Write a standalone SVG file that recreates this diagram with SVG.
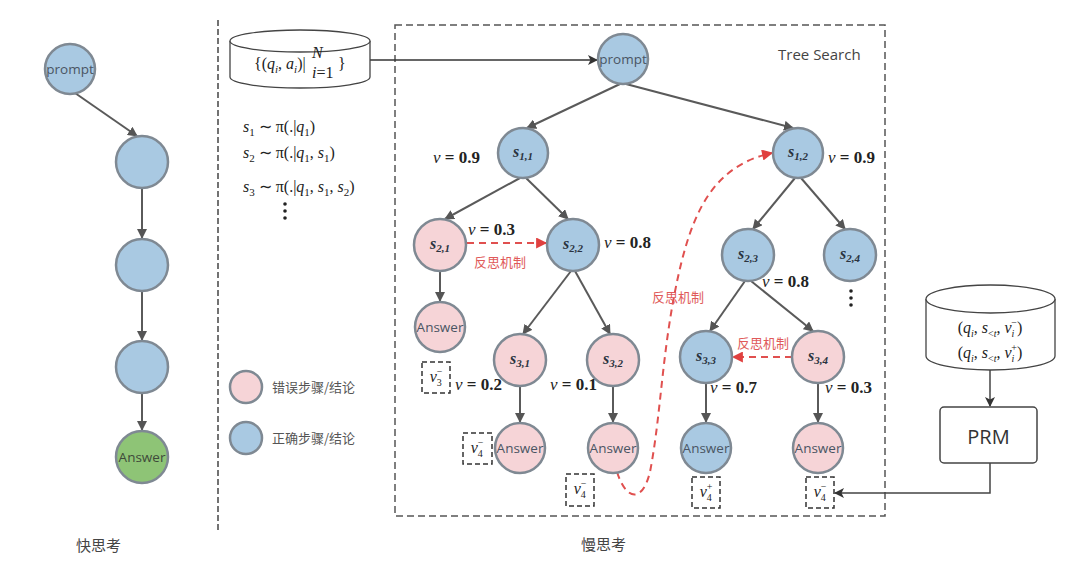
<svg xmlns="http://www.w3.org/2000/svg" width="1080" height="586" viewBox="0 0 1080 586">
<defs>
<marker id="ag" viewBox="0 0 10 10" refX="9" refY="5" markerWidth="10" markerHeight="10" markerUnits="userSpaceOnUse" orient="auto"><path d="M0,0 L10,5 L0,10 Z" fill="#555"/></marker>
<marker id="ar" viewBox="0 0 10 10" refX="9" refY="5" markerWidth="13" markerHeight="11" markerUnits="userSpaceOnUse" orient="auto"><path d="M0,0 L10,5 L0,10 Z" fill="#e0403f"/></marker>
<marker id="ak" viewBox="0 0 10 10" refX="9" refY="5" markerWidth="12" markerHeight="10" markerUnits="userSpaceOnUse" orient="auto"><path d="M0,0 L10,5 L0,10 L2.5,5 Z" fill="#333"/></marker>
</defs>
<style>
.blue{fill:#a9c9e2;stroke:#7f8993;stroke-width:2.5}
.pink{fill:#f6d4d7;stroke:#7f8993;stroke-width:2.5}
.green{fill:#8ec476;stroke:#7f8993;stroke-width:2.5}
.edge{stroke:#5a5a5a;stroke-width:2;fill:none;marker-end:url(#ag)}
.red{stroke:#e0504f;stroke-width:2;fill:none;stroke-dasharray:7,5;marker-end:url(#ar)}
.nt{font-family:"Open Sans","Liberation Sans",sans-serif;font-size:13.5px;fill:#4a5563;text-anchor:middle}
.sl{font-family:"Liberation Serif",serif;font-style:italic;font-weight:bold;font-size:16px;fill:#2a3340;text-anchor:middle}
.m{font-family:"Liberation Serif",serif;font-size:16px;fill:#222}
.vl{font-family:"Liberation Serif",serif;font-size:17px;fill:#222;font-weight:bold}
.cn{font-family:"Noto Sans CJK SC",sans-serif;font-size:15px;fill:#444}
.rc{font-family:"Noto Sans CJK SC",sans-serif;font-size:13px;fill:#e05a5a;text-anchor:middle}
.lg{font-family:"Noto Sans CJK SC",sans-serif;font-size:13px;fill:#555}
.box{fill:none;stroke:#333;stroke-width:1.5;stroke-dasharray:5,3}
.sh{fill:#fff;stroke:#444;stroke-width:1.3}
</style>
<rect width="1080" height="586" fill="#fff"/>

<line x1="218" y1="20" x2="218" y2="530" stroke="#444" stroke-width="1.5" stroke-dasharray="6,3"/>
<rect x="395" y="25" width="490" height="491" fill="none" stroke="#555" stroke-width="1.5" stroke-dasharray="7,4"/>
<text x="778" y="60" font-family="Open Sans, Liberation Sans, sans-serif" font-size="15" fill="#444">Tree Search</text>
<text x="76" y="551" class="cn">快思考</text>
<text x="581" y="550" class="cn">慢思考</text>

<g id="connectors">
<line class="edge" x1="75" y1="93" x2="137" y2="136"/>
<line class="edge" x1="142" y1="188" x2="142" y2="238"/>
<line class="edge" x1="142" y1="291" x2="142" y2="340"/>
<line class="edge" x1="142" y1="393" x2="142" y2="430"/>

<line x1="370" y1="60" x2="597" y2="60" stroke="#333" stroke-width="1.5" marker-end="url(#ak)"/>

<line class="edge" x1="620" y1="84" x2="527" y2="128"/>
<line class="edge" x1="626" y1="84" x2="793" y2="128"/>
<line class="edge" x1="520" y1="178" x2="445" y2="219"/>
<line class="edge" x1="526" y1="178" x2="568" y2="219"/>
<line class="edge" x1="571" y1="271" x2="523" y2="334"/>
<line class="edge" x1="575" y1="271" x2="610" y2="334"/>
<line class="edge" x1="795" y1="178" x2="753" y2="229"/>
<line class="edge" x1="801" y1="178" x2="845" y2="229"/>
<line class="edge" x1="745" y1="281" x2="710" y2="331"/>
<line class="edge" x1="751" y1="281" x2="813" y2="331"/>
<line class="edge" x1="440" y1="271" x2="440" y2="301"/>
<line class="edge" x1="520" y1="386" x2="520" y2="422"/>
<line class="edge" x1="613" y1="386" x2="613" y2="422"/>
<line class="edge" x1="706" y1="383" x2="706" y2="422"/>
<line class="edge" x1="818" y1="383" x2="818" y2="422"/>

<line class="red" x1="467" y1="243" x2="546" y2="243"/>
<line class="red" x1="792" y1="357" x2="733" y2="357"/>
<path class="red" d="M617,472 C626,500 642,504 650,472 C662,410 662,340 682,260 C695,210 715,165 772,153"/>

<line x1="990" y1="370" x2="990" y2="406" stroke="#444" stroke-width="1.5" marker-end="url(#ak)"/>
<polyline points="990,463 990,493 835,493" fill="none" stroke="#444" stroke-width="1.5" marker-end="url(#ak)"/>
</g>

<g id="f_prompt"><circle class="blue" cx="70" cy="69" r="25"/><text class="nt" x="70" y="74">prompt</text></g>
<g id="f_n2"><circle class="blue" cx="142" cy="162" r="26"/></g>
<g id="f_n3"><circle class="blue" cx="142" cy="265" r="26"/></g>
<g id="f_n4"><circle class="blue" cx="142" cy="367" r="26"/></g>
<g id="f_answer"><circle class="green" cx="142" cy="457" r="26"/><text class="nt" x="142" y="462" style="fill:#3e4a3a">Answer</text></g>

<g id="dataset">
<path class="sh" d="M230,41 V77 A70,11 0 0 0 370,77 V41"/>
<ellipse class="sh" cx="300" cy="41" rx="70" ry="11"/>
<text class="m" x="254" y="69" font-size="18">{(<tspan font-style="italic">q</tspan><tspan dy="4" font-size="11" font-style="italic">i</tspan><tspan dy="-4">, </tspan><tspan font-style="italic">a</tspan><tspan dy="4" font-size="11" font-style="italic">i</tspan><tspan dy="-4">)|</tspan></text>
<text class="m" x="312" y="58" font-size="10" font-style="italic">N</text>
<text class="m" x="312" y="78" font-size="10"><tspan font-style="italic">i</tspan>=1</text>
<text class="m" x="338" y="69" font-size="18">}</text>
</g>

<g id="equations">
<text class="m" x="243" y="132"><tspan font-style="italic">s</tspan><tspan dy="4" font-size="11">1</tspan><tspan dy="-4"> ∼ π(.|</tspan><tspan font-style="italic">q</tspan><tspan dy="4" font-size="11">1</tspan><tspan dy="-4">)</tspan></text>
<text class="m" x="243" y="158"><tspan font-style="italic">s</tspan><tspan dy="4" font-size="11">2</tspan><tspan dy="-4"> ∼ π(.|</tspan><tspan font-style="italic">q</tspan><tspan dy="4" font-size="11">1</tspan><tspan dy="-4">, </tspan><tspan font-style="italic">s</tspan><tspan dy="4" font-size="11">1</tspan><tspan dy="-4">)</tspan></text>
<text class="m" x="243" y="192"><tspan font-style="italic">s</tspan><tspan dy="4" font-size="11">3</tspan><tspan dy="-4"> ∼ π(.|</tspan><tspan font-style="italic">q</tspan><tspan dy="4" font-size="11">1</tspan><tspan dy="-4">, </tspan><tspan font-style="italic">s</tspan><tspan dy="4" font-size="11">1</tspan><tspan dy="-4">, </tspan><tspan font-style="italic">s</tspan><tspan dy="4" font-size="11">2</tspan><tspan dy="-4">)</tspan></text>
<circle cx="285" cy="204" r="1.8" fill="#222"/><circle cx="285" cy="211" r="1.8" fill="#222"/><circle cx="285" cy="218" r="1.8" fill="#222"/>
</g>

<g id="legend">
<circle class="pink" cx="246" cy="387" r="16"/><text class="lg" x="272" y="392">错误步骤/结论</text>
<circle class="blue" cx="246" cy="438" r="16"/><text class="lg" x="272" y="443">正确步骤/结论</text>
</g>

<g id="t_prompt"><circle class="blue" cx="623" cy="59" r="25"/><text class="nt" x="623" y="64">prompt</text></g>
<g id="t_s11"><circle class="blue" cx="523" cy="153" r="25"/><text class="sl" x="523" y="157">s<tspan dy="3" font-size="11">1,1</tspan></text></g>
<g id="t_s12"><circle class="blue" cx="798" cy="153" r="25"/><text class="sl" x="798" y="157">s<tspan dy="3" font-size="11">1,2</tspan></text></g>
<g id="t_s21"><circle class="pink" cx="440" cy="245" r="26"/><text class="sl" x="440" y="249">s<tspan dy="3" font-size="11">2,1</tspan></text></g>
<g id="t_s22"><circle class="blue" cx="573" cy="245" r="26"/><text class="sl" x="573" y="249">s<tspan dy="3" font-size="11">2,2</tspan></text></g>
<g id="t_s23"><circle class="blue" cx="748" cy="255" r="26"/><text class="sl" x="748" y="259">s<tspan dy="3" font-size="11">2,3</tspan></text></g>
<g id="t_s24"><circle class="blue" cx="850" cy="255" r="26"/><text class="sl" x="850" y="259">s<tspan dy="3" font-size="11">2,4</tspan></text></g>
<g id="t_a21"><circle class="pink" cx="440" cy="327" r="25"/><text class="nt" x="440" y="332">Answer</text></g>
<g id="t_s31"><circle class="pink" cx="520" cy="360" r="26"/><text class="sl" x="520" y="364">s<tspan dy="3" font-size="11">3,1</tspan></text></g>
<g id="t_s32"><circle class="pink" cx="613" cy="360" r="26"/><text class="sl" x="613" y="364">s<tspan dy="3" font-size="11">3,2</tspan></text></g>
<g id="t_s33"><circle class="blue" cx="706" cy="357" r="26"/><text class="sl" x="706" y="361">s<tspan dy="3" font-size="11">3,3</tspan></text></g>
<g id="t_s34"><circle class="pink" cx="818" cy="357" r="26"/><text class="sl" x="818" y="361">s<tspan dy="3" font-size="11">3,4</tspan></text></g>
<g id="t_a31"><circle class="pink" cx="520" cy="448" r="25"/><text class="nt" x="520" y="453">Answer</text></g>
<g id="t_a32"><circle class="pink" cx="613" cy="448" r="25"/><text class="nt" x="613" y="453">Answer</text></g>
<g id="t_a33"><circle class="blue" cx="706" cy="448" r="25"/><text class="nt" x="706" y="453">Answer</text></g>
<g id="t_a34"><circle class="pink" cx="818" cy="448" r="25"/><text class="nt" x="818" y="453">Answer</text></g>
<g id="t_dots"><circle cx="851" cy="291" r="1.8" fill="#222"/><circle cx="851" cy="298" r="1.8" fill="#222"/><circle cx="851" cy="305" r="1.8" fill="#222"/></g>

<g id="values">
<text class="vl" x="433" y="163"><tspan font-style="italic" font-weight="normal">v</tspan> = 0.9</text>
<text class="vl" x="828" y="163"><tspan font-style="italic" font-weight="normal">v</tspan> = 0.9</text>
<text class="vl" x="468" y="235"><tspan font-style="italic" font-weight="normal">v</tspan> = 0.3</text>
<text class="vl" x="604" y="248"><tspan font-style="italic" font-weight="normal">v</tspan> = 0.8</text>
<text class="vl" x="762" y="287"><tspan font-style="italic" font-weight="normal">v</tspan> = 0.8</text>
<text class="vl" x="455" y="390"><tspan font-style="italic" font-weight="normal">v</tspan> = 0.2</text>
<text class="vl" x="550" y="390"><tspan font-style="italic" font-weight="normal">v</tspan> = 0.1</text>
<text class="vl" x="710" y="393"><tspan font-style="italic" font-weight="normal">v</tspan> = 0.7</text>
<text class="vl" x="825" y="393"><tspan font-style="italic" font-weight="normal">v</tspan> = 0.3</text>
<text class="rc" x="500" y="267">反思机制</text>
<text class="rc" x="678" y="302">反思机制</text>
<text class="rc" x="763" y="348">反思机制</text>
</g>

<g id="vboxes">
<rect class="box" x="422" y="362" width="28" height="31"/>
<text class="m" x="436" y="382" text-anchor="middle"><tspan font-style="italic">v</tspan><tspan dy="4" font-size="10">3</tspan><tspan dx="-5" dy="-11" font-size="10">−</tspan></text>
<rect class="box" x="463" y="433" width="29" height="31"/>
<text class="m" x="477" y="453" text-anchor="middle"><tspan font-style="italic">v</tspan><tspan dy="4" font-size="10">4</tspan><tspan dx="-5" dy="-11" font-size="10">−</tspan></text>
<rect class="box" x="566" y="474" width="28" height="32"/>
<text class="m" x="580" y="494" text-anchor="middle"><tspan font-style="italic">v</tspan><tspan dy="4" font-size="10">4</tspan><tspan dx="-5" dy="-11" font-size="10">−</tspan></text>
<rect class="box" x="692" y="477" width="28" height="31"/>
<text class="m" x="706" y="497" text-anchor="middle"><tspan font-style="italic">v</tspan><tspan dy="4" font-size="10">4</tspan><tspan dx="-5" dy="-11" font-size="10">+</tspan></text>
<rect class="box" x="806" y="477" width="28" height="31"/>
<text class="m" x="820" y="497" text-anchor="middle"><tspan font-style="italic">v</tspan><tspan dy="4" font-size="10">4</tspan><tspan dx="-5" dy="-11" font-size="10">−</tspan></text>
</g>

<g id="prm_data">
<path class="sh" d="M926,299 V356 A64.5,14 0 0 0 1055,356 V299"/>
<ellipse class="sh" cx="990.5" cy="299" rx="64.5" ry="14"/>
<text class="m" x="990" y="333" text-anchor="middle">(<tspan font-style="italic">q</tspan><tspan dy="4" font-size="10" font-style="italic">i</tspan><tspan dy="-4">, </tspan><tspan font-style="italic">s</tspan><tspan dy="4" font-size="10">&lt;<tspan font-style="italic">t</tspan></tspan><tspan dy="-4">, </tspan><tspan font-style="italic">v</tspan><tspan dy="4" font-size="10" font-style="italic">i</tspan><tspan dx="-3" dy="-11" font-size="10">−</tspan><tspan dy="7">)</tspan></text>
<text class="m" x="990" y="358" text-anchor="middle">(<tspan font-style="italic">q</tspan><tspan dy="4" font-size="10" font-style="italic">i</tspan><tspan dy="-4">, </tspan><tspan font-style="italic">s</tspan><tspan dy="4" font-size="10">&lt;<tspan font-style="italic">t</tspan></tspan><tspan dy="-4">, </tspan><tspan font-style="italic">v</tspan><tspan dy="4" font-size="10" font-style="italic">i</tspan><tspan dx="-3" dy="-11" font-size="10">+</tspan><tspan dy="7">)</tspan></text>
</g>
<g id="prm">
<rect x="940" y="407" width="97" height="56" rx="4" fill="#fff" stroke="#444" stroke-width="1.5"/>
<text x="988.5" y="444" text-anchor="middle" font-family="Open Sans, Liberation Sans, sans-serif" font-size="20" fill="#333">PRM</text>
</g>
</svg>
